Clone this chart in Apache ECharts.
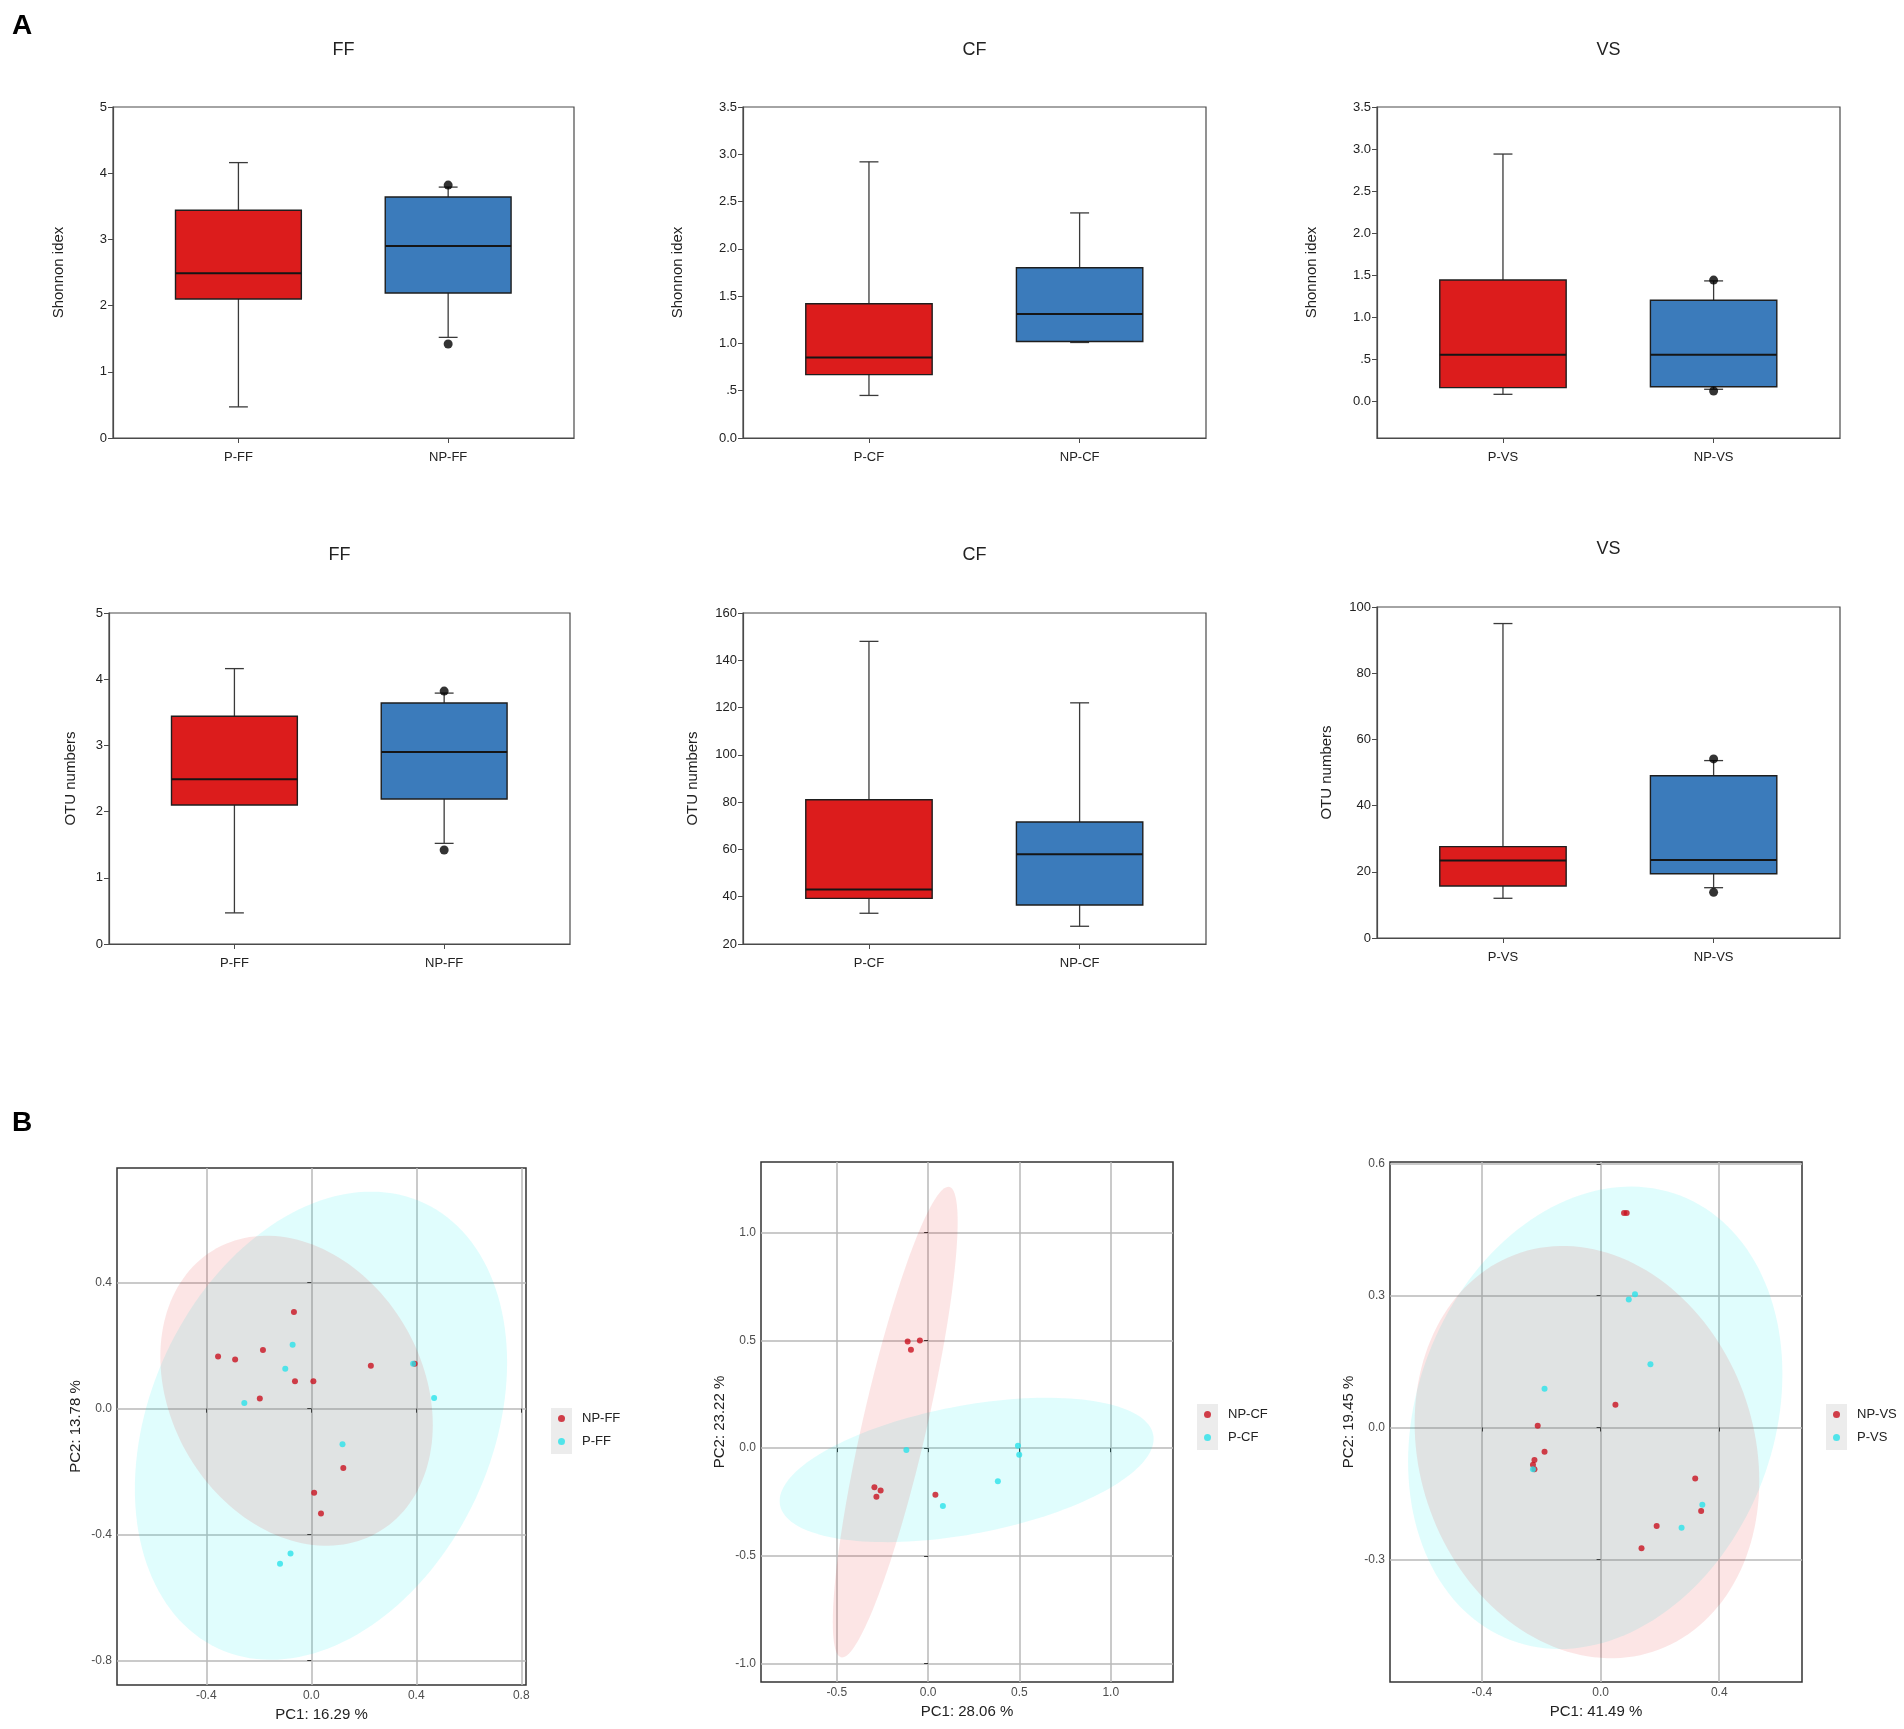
<!DOCTYPE html>
<html>
<head>
<meta charset="utf-8">
<title>Alpha diversity and PCA</title>
<script src="https://cdn.jsdelivr.net/npm/echarts@6/dist/echarts.min.js"></script>
<style>
html, body { margin: 0; padding: 0; background: #fff; }
#chart { width: 1904px; height: 1729px; }
</style>
</head>
<body>
<div id="chart"></div>
<script>
// group names
var ffCats = ['P-FF', 'NP-FF'];
var cfCats = ['P-CF', 'NP-CF'];
var vsCats = ['P-VS', 'NP-VS'];

// box plots: [lower whisker, Q1, median, Q3, upper whisker]
var shannonFF = [[0.47, 2.10, 2.49, 3.44, 4.16], [1.52, 2.19, 2.90, 3.64, 3.79]];
var shannonFFOut = [[1, 1.42], [1, 3.82]];
var shannonCF = [[0.45, 0.67, 0.85, 1.42, 2.92], [1.01, 1.02, 1.31, 1.80, 2.38]];
var shannonVS = [[0.08, 0.16, 0.55, 1.44, 2.94], [0.14, 0.17, 0.55, 1.20, 1.43]];
var shannonVSOut = [[1, 0.12], [1, 1.44]];

var otuFF = [[0.47, 2.10, 2.49, 3.44, 4.16], [1.52, 2.19, 2.90, 3.64, 3.79]];
var otuFFOut = [[1, 1.42], [1, 3.82]];
var otuCF = [[33, 39.3, 43, 81, 148], [27.5, 36.5, 58, 71.6, 122]];
var otuVS = [[12, 15.7, 23.4, 27.6, 95], [15.2, 19.4, 23.6, 49, 53.6]];
var otuVSOut = [[1, 13.8], [1, 54.1]];

// PCA scores [PC1, PC2]
var pcaFF_NP = [[-0.355, 0.166], [-0.290, 0.156], [-0.184, 0.186], [-0.066, 0.307], [-0.062, 0.087], [0.008, 0.087],
    [-0.196, 0.032], [0.227, 0.136], [0.394, 0.143], [0.122, -0.188], [0.011, -0.267], [0.037, -0.333]];
var pcaFF_P = [[-0.071, 0.203], [-0.099, 0.127], [-0.255, 0.018], [0.388, 0.143], [0.468, 0.034], [0.119, -0.113],
    [-0.079, -0.460], [-0.119, -0.492]];
var pcaCF_NP = [[-0.112, 0.495], [-0.045, 0.500], [-0.094, 0.457], [-0.294, -0.181], [-0.260, -0.196], [-0.283, -0.225],
    [0.040, -0.216]];
var pcaCF_P = [[-0.119, -0.009], [0.492, 0.011], [0.499, -0.031], [0.382, -0.154], [0.081, -0.268]];
var pcaVS_NP = [[0.079, 0.488], [0.088, 0.488], [0.050, 0.052], [-0.212, 0.004], [-0.189, -0.055], [-0.223, -0.074],
    [-0.228, -0.085], [-0.223, -0.095], [0.319, -0.116], [0.339, -0.190], [0.189, -0.224], [0.138, -0.275]];
var pcaVS_P = [[0.095, 0.291], [0.116, 0.303], [0.168, 0.144], [-0.189, 0.088], [-0.228, -0.095], [0.343, -0.176],
    [0.273, -0.228]];

// confidence ellipses: [centre PC1, centre PC2, half width, half height, correlation]
var ellFF_NP = [-0.056, 0.057, 0.519, 0.492, -0.22];
var ellFF_P = [0.037, -0.054, 0.709, 0.743, 0.27];
var ellCF_NP = [-0.180, 0.121, 0.342, 1.092, 0.85];
var ellCF_P = [0.211, -0.101, 1.024, 0.335, 0.43];
var ellVS_NP = [-0.046, -0.056, 0.581, 0.469, -0.14];
var ellVS_P = [-0.018, 0.022, 0.631, 0.526, 0.19];

// tick labels
var ticksFFx = [-0.4, 0, 0.4, 0.8];
var ticksFFy = [-0.8, -0.4, 0, 0.4];
var ticksCFx = [-0.5, 0, 0.5, 1.0];
var ticksCFy = [-1.0, -0.5, 0, 0.5, 1.0];
var ticksVSx = [-0.4, 0, 0.4];
var ticksVSy = [-0.3, 0, 0.3, 0.6];
var ticksShannonVS = [0, 0.5, 1, 1.5, 2, 2.5, 3, 3.5];
var groupTicks = [0, 1];

var font = 'Liberation Sans, Arial, sans-serif';
var red = '#dc1c1c', blue = '#3b7bbb';
var ptRed = '#c9121f', ptCyan = '#2ae2ea';

var myChart = echarts.init(document.getElementById('chart'));
var grids = [], xAxes = [], yAxes = [], series = [], legends = [], graphics = [];

function oneDec(v) {
    if (v === 0.5) return '.5';
    return v.toFixed(1);
}

function renderBox(params, api) {
    var g = api.value(0);
    var lo = api.coord([g, api.value(1)]);
    var q1 = api.coord([g, api.value(2)]);
    var md = api.coord([g, api.value(3)]);
    var q3 = api.coord([g, api.value(4)]);
    var hi = api.coord([g, api.value(5)]);
    var bw = api.size([0.6, 0])[0];
    var cw = bw * 0.15;
    var x = md[0];
    var ws = { stroke: '#3a3a3a', lineWidth: 1.3 };
    return {
        type: 'group',
        children: [
            { type: 'line', shape: { x1: x, y1: q3[1], x2: x, y2: hi[1] }, style: ws },
            { type: 'line', shape: { x1: x - cw / 2, y1: hi[1], x2: x + cw / 2, y2: hi[1] }, style: ws },
            { type: 'line', shape: { x1: x, y1: q1[1], x2: x, y2: lo[1] }, style: ws },
            { type: 'line', shape: { x1: x - cw / 2, y1: lo[1], x2: x + cw / 2, y2: lo[1] }, style: ws },
            { type: 'rect', shape: { x: x - bw / 2, y: q3[1], width: bw, height: q1[1] - q3[1] },
                style: { fill: api.visual('color'), stroke: '#1e1e1e', lineWidth: 1.4 } },
            { type: 'line', shape: { x1: x - bw / 2, y1: md[1], x2: x + bw / 2, y2: md[1] },
                style: { stroke: '#151515', lineWidth: 2 } }
        ]
    };
}

function addBox(box, cats, boxes, outs, yName, yCfg, title) {
    var gi = grids.length;
    grids.push({ left: box[0], top: box[1], width: box[2], height: box[3], show: true,
        borderColor: '#4a4a4a', borderWidth: 1.2, backgroundColor: 'transparent' });
    xAxes.push({
        gridIndex: gi, type: 'value', min: -0.598, max: 1.6,
        axisLine: { onZero: false, lineStyle: { color: '#4a4a4a', width: 1.2 } },
        axisTick: { show: true, length: 5, customValues: groupTicks, lineStyle: { color: '#4a4a4a' } },
        axisLabel: { color: '#222', fontSize: 13, fontFamily: font, margin: 13, customValues: groupTicks,
            formatter: function (v) { return cats[Math.round(v)]; } },
        splitLine: { show: false }
    });
    var y = {
        gridIndex: gi, type: 'value', min: yCfg.min, max: yCfg.max,
        name: yName, nameLocation: 'middle', nameGap: yCfg.gap,
        nameTextStyle: { color: '#222', fontSize: 15, fontFamily: font },
        axisLine: { show: true, onZero: false, lineStyle: { color: '#4a4a4a', width: 1.2 } },
        axisTick: { show: true, length: 5, lineStyle: { color: '#4a4a4a' } },
        axisLabel: { color: '#222', fontSize: 13, fontFamily: font, margin: 6 },
        splitLine: { show: false }
    };
    if (yCfg.interval) y.interval = yCfg.interval;
    if (yCfg.ticks) {
        y.axisTick.customValues = yCfg.ticks;
        y.axisLabel.customValues = yCfg.ticks;
    }
    if (yCfg.fmt) y.axisLabel.formatter = yCfg.fmt;
    yAxes.push(y);
    series.push({
        type: 'custom', xAxisIndex: gi, yAxisIndex: gi, renderItem: renderBox,
        encode: { x: 0, y: [1, 2, 3, 4, 5] },
        data: boxes.map(function (b, i) {
            return { value: [i].concat(b), itemStyle: { color: i === 0 ? red : blue } };
        })
    });
    if (outs) {
        series.push({ type: 'scatter', xAxisIndex: gi, yAxisIndex: gi, data: outs,
            symbolSize: 9, itemStyle: { color: '#000' }, z: 5 });
    }
    graphics.push({ type: 'text', x: box[0] + box[2] / 2, y: title[1],
        style: { text: title[0], font: '18px ' + font, fill: '#222', textAlign: 'center', textVerticalAlign: 'middle' } });
}

function ellipseRender(fill) {
    return function (params, api) {
        var cx = api.value(0), cy = api.value(1), sx = api.value(2), sy = api.value(3), r = api.value(4);
        var k = Math.sqrt(1 - r * r);
        var pts = [];
        for (var i = 0; i < 160; i++) {
            var t = i / 160 * Math.PI * 2;
            pts.push(api.coord([cx + sx * Math.cos(t), cy + sy * (r * Math.cos(t) + k * Math.sin(t))]));
        }
        return { type: 'polygon', shape: { points: pts }, style: { fill: fill } };
    };
}

function addPca(box, cfg) {
    var gi = grids.length;
    grids.push({ left: box[0], top: box[1], width: box[2], height: box[3], show: true,
        borderColor: '#333', borderWidth: 1.5, backgroundColor: 'transparent' });
    var lbl = { color: '#4d4d4d', fontSize: 12, fontFamily: font, formatter: function (v) { return v.toFixed(1); } };
    xAxes.push({
        gridIndex: gi, type: 'value', min: cfg.xr[0], max: cfg.xr[1],
        name: cfg.xName, nameLocation: 'middle', nameGap: 22,
        nameTextStyle: { color: '#222', fontSize: 15, fontFamily: font },
        axisLine: { show: false },
        axisTick: { show: true, length: 4, customValues: cfg.xt, lineStyle: { color: '#333' } },
        axisLabel: Object.assign({ customValues: cfg.xt, margin: 5 }, lbl),
        splitLine: { show: true, lineStyle: { color: '#b9b9b9', width: 1.5 } }
    });
    yAxes.push({
        gridIndex: gi, type: 'value', min: cfg.yr[0], max: cfg.yr[1],
        name: cfg.yName, nameLocation: 'middle', nameGap: 34,
        nameTextStyle: { color: '#222', fontSize: 15, fontFamily: font },
        axisLine: { show: false },
        axisTick: { show: true, length: 4, customValues: cfg.yt, lineStyle: { color: '#333' } },
        axisLabel: Object.assign({ customValues: cfg.yt, margin: 5 }, lbl),
        splitLine: { show: true, lineStyle: { color: '#b9b9b9', width: 1.5 } }
    });
    series.push({ type: 'custom', name: cfg.names[1] + ' ellipse', xAxisIndex: gi, yAxisIndex: gi,
        renderItem: ellipseRender('rgba(0,240,240,0.12)'), data: [cfg.ellP], z: 1, silent: true });
    series.push({ type: 'custom', name: cfg.names[0] + ' ellipse', xAxisIndex: gi, yAxisIndex: gi,
        renderItem: ellipseRender('rgba(230,0,0,0.1)'), data: [cfg.ellNP], z: 1, silent: true });
    series.push({ type: 'scatter', name: cfg.names[0], xAxisIndex: gi, yAxisIndex: gi, data: cfg.np,
        symbolSize: 6, itemStyle: { color: ptRed }, z: 3 });
    series.push({ type: 'scatter', name: cfg.names[1], xAxisIndex: gi, yAxisIndex: gi, data: cfg.p,
        symbolSize: 6, itemStyle: { color: ptCyan }, z: 3 });
    legends.push({
        data: cfg.names, orient: 'vertical', left: cfg.leg[0], top: cfg.leg[1], padding: 0,
        icon: 'circle', itemWidth: 7, itemHeight: 7, itemGap: 10,
        textStyle: { color: '#222', fontSize: 13, fontFamily: font, padding: [0, 0, 0, 12] },
        selectedMode: false
    });
    graphics.push({ type: 'rect', shape: { x: cfg.leg[0] - 7, y: cfg.leg[1] - 4, width: 21, height: 46 },
        style: { fill: '#ececec' }, z: -1 });
}

// row 1: Shannon index
addBox([113, 107, 461, 331], ffCats, shannonFF, shannonFFOut, 'Shonnon idex',
    { min: 0, max: 5, interval: 1, gap: 47 }, ['FF', 50]);
addBox([743, 107, 463, 331], cfCats, shannonCF, null, 'Shonnon idex',
    { min: 0, max: 3.5, interval: 0.5, gap: 58, fmt: oneDec }, ['CF', 50]);
addBox([1377, 107, 463, 331], vsCats, shannonVS, shannonVSOut, 'Shonnon idex',
    { min: -0.44, max: 3.5, ticks: ticksShannonVS, gap: 58, fmt: oneDec }, ['VS', 50]);

// row 2: OTU numbers
addBox([109, 613, 461, 331], ffCats, otuFF, otuFFOut, 'OTU numbers',
    { min: 0, max: 5, interval: 1, gap: 31 }, ['FF', 555]);
addBox([743, 613, 463, 331], cfCats, otuCF, null, 'OTU numbers',
    { min: 20, max: 160, interval: 20, gap: 43 }, ['CF', 555]);
addBox([1377, 607, 463, 331], vsCats, otuVS, otuVSOut, 'OTU numbers',
    { min: 0, max: 100, interval: 20, gap: 43 }, ['VS', 549]);

// row 3: PCA
addPca([117, 1168, 409, 517], {
    xr: [-0.74, 0.818], yr: [-0.877, 0.764], xt: ticksFFx, yt: ticksFFy,
    xName: 'PC1: 16.29 %', yName: 'PC2: 13.78 %', names: ['NP-FF', 'P-FF'],
    np: pcaFF_NP, p: pcaFF_P, ellNP: ellFF_NP, ellP: ellFF_P, leg: [558, 1412]
});
addPca([761, 1162, 412, 520], {
    xr: [-0.915, 1.341], yr: [-1.085, 1.328], xt: ticksCFx, yt: ticksCFy,
    xName: 'PC1: 28.06 %', yName: 'PC2: 23.22 %', names: ['NP-CF', 'P-CF'],
    np: pcaCF_NP, p: pcaCF_P, ellNP: ellCF_NP, ellP: ellCF_P, leg: [1204, 1408]
});
addPca([1390, 1162, 412, 520], {
    xr: [-0.71, 0.679], yr: [-0.579, 0.604], xt: ticksVSx, yt: ticksVSy,
    xName: 'PC1: 41.49 %', yName: 'PC2: 19.45 %', names: ['NP-VS', 'P-VS'],
    np: pcaVS_NP, p: pcaVS_P, ellNP: ellVS_NP, ellP: ellVS_P, leg: [1833, 1408]
});

graphics.push({ type: 'text', x: 12, y: 26, style: { text: 'A', font: 'bold 28px ' + font, fill: '#000', textVerticalAlign: 'middle' } });
graphics.push({ type: 'text', x: 12, y: 1123, style: { text: 'B', font: 'bold 28px ' + font, fill: '#000', textVerticalAlign: 'middle' } });

myChart.setOption({
    animation: false,
    backgroundColor: '#fff',
    grid: grids,
    xAxis: xAxes,
    yAxis: yAxes,
    legend: legends,
    graphic: graphics,
    series: series
});
</script>
</body>
</html>
